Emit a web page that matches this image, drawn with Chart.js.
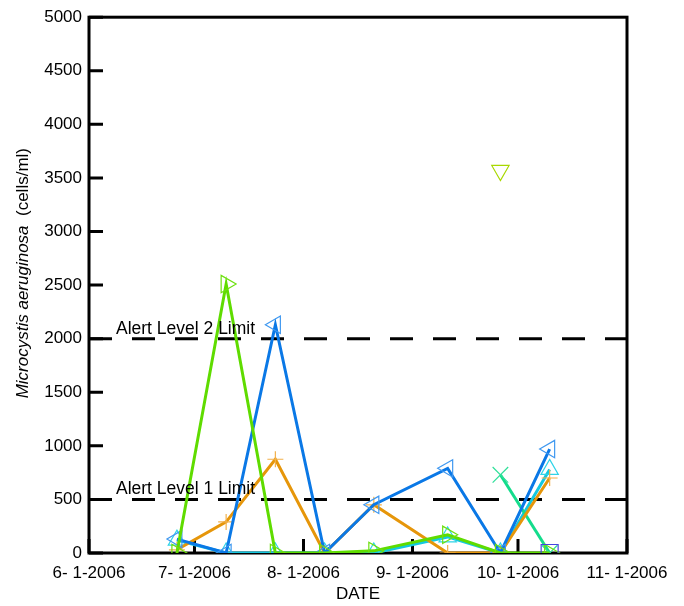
<!DOCTYPE html>
<html>
<head>
<meta charset="utf-8">
<script src="https://cdn.jsdelivr.net/npm/chart.js@4.4.0/dist/chart.umd.min.js"></script>
<style>
  html, body { margin: 0; padding: 0; background: #fff; }
</style>
</head>
<body>
<canvas id="myChart" width="684" height="606"></canvas>
<script>
// sampling dates and values (cells/ml)
const sampleDates = ['2006-06-26', '2006-07-10', '2006-07-24', '2006-08-07', '2006-08-21', '2006-09-11', '2006-09-26', '2006-10-10'];
const orangeCross = [30, 290, 875, 0, 450, 0, 0, 700];
const blueLeft = [130, 0, 2130, 0, 450, 790, 0, 970];
const greenRight = [0, 2510, 0, 0, 20, 170, 0, 0];
const cyanUp = [120, 0, 0, 0, 0, 150, 0, 780];
const tealX = [null, null, null, null, null, null, 730, 0];
const limeDown = [null, null, null, null, null, null, 3570, null];
const purpleSquare = [null, null, null, null, null, null, null, 0];

const tickDates = ['2006-06-01', '2006-07-01', '2006-08-01', '2006-09-01', '2006-10-01', '2006-11-01'];
const tickLabels = ['6- 1-2006', '7- 1-2006', '8- 1-2006', '9- 1-2006', '10- 1-2006', '11- 1-2006'];

const alertLevels = [2000, 500];
const alertLabels = ['Alert Level 2 Limit', 'Alert Level 1 Limit'];

const FONT = "'Liberation Sans', Arial, sans-serif";

function dayOf(s) {
    return (Date.parse(s) - Date.parse(tickDates[0])) / 86400000;
}
const tickDays = tickDates.map(dayOf);
const xMin = tickDays[0];
const xMax = tickDays[tickDays.length - 1];

function points(values) {
    return sampleDates.map((d, i) => ({ x: dayOf(d), y: values[i] }));
}

function series(values, color, markColor, style, rot, radius, showLine) {
    return {
        data: points(values),
        borderColor: color,
        borderWidth: 3,
        pointStyle: style,
        pointRotation: rot,
        pointRadius: radius,
        pointBorderColor: markColor,
        pointBackgroundColor: 'rgba(0,0,0,0)',
        pointBorderWidth: 1.2,
        showLine: showLine,
        spanGaps: false,
        fill: false
    };
}

const datasets = [
    series(limeDown, '#b4dc00', '#a8d800', 'triangle', 180, 10, false),
    series(purpleSquare, '#4646e0', '#4646e0', 'rect', 0, 12, false),
    series(greenRight, '#5fdc00', '#6ee010', 'triangle', 90, 10, true),
    series(blueLeft, '#0a78e6', '#3f98f0', 'triangle', 270, 10, true),
    series(orangeCross, '#e6960a', '#f2b04a', 'cross', 0, 8, true),
    series(tealX, '#14dc8c', '#30e09a', 'crossRot', 0, 11, true),
    series(cyanUp, '#14c8e0', '#30d4e8', 'triangle', 0, 10, true)
];

// dashed alert level lines
alertLevels.forEach(v => {
    datasets.push({
        data: [{ x: xMin, y: v }, { x: xMax, y: v }],
        borderColor: '#000',
        borderWidth: 3,
        borderDash: [23, 20],
        pointRadius: 0,
        fill: false
    });
});

// frame, inward ticks, alert texts and mixed-style y title
const framePlugin = {
    id: 'framePlugin',
    beforeDatasetsDraw(chart) {
        const { ctx, chartArea: { left, top, right, bottom }, scales: { x, y } } = chart;
        ctx.save();
        ctx.strokeStyle = '#000';
        ctx.lineWidth = 3;
        ctx.strokeRect(left, top, right - left, bottom - top);
        ctx.beginPath();
        y.ticks.forEach(t => {
            const py = y.getPixelForValue(t.value);
            ctx.moveTo(left, py);
            ctx.lineTo(left + 14, py);
        });
        x.ticks.forEach(t => {
            const px = x.getPixelForValue(t.value);
            ctx.moveTo(px, bottom);
            ctx.lineTo(px, bottom - 14);
        });
        ctx.stroke();
        ctx.restore();
    },
    afterDraw(chart) {
        const { ctx, chartArea: { left }, scales: { y } } = chart;
        ctx.save();
        ctx.fillStyle = '#000';
        ctx.font = '17.5px ' + FONT;
        ctx.textBaseline = 'alphabetic';
        ctx.textAlign = 'left';
        alertLevels.forEach((v, i) => {
            ctx.fillText(alertLabels[i], left + 27, y.getPixelForValue(v) - 5);
        });

        // y axis title, top end at about y = 148
        const part1 = 'Microcystis aeruginosa';
        const part2 = '  (cells/ml)';
        const italic = 'italic 17px ' + FONT;
        const normal = '17px ' + FONT;
        ctx.font = italic;
        const w1 = ctx.measureText(part1).width;
        ctx.font = normal;
        const w2 = ctx.measureText(part2).width;
        ctx.translate(28, 148 + w1 + w2);
        ctx.rotate(-Math.PI / 2);
        ctx.font = italic;
        ctx.fillText(part1, 0, 0);
        ctx.font = normal;
        ctx.fillText(part2, w1, 0);
        ctx.restore();
    }
};

Chart.defaults.font.family = FONT;
Chart.defaults.font.size = 17;
Chart.defaults.color = '#000';

const config = {
    type: 'line',
    data: { datasets },
    options: {
        responsive: false,
        animation: false,
        events: [],
        layout: { padding: { left: 0, top: 16, right: 57, bottom: 0 } },
        plugins: {
            legend: { display: false },
            tooltip: { enabled: false }
        },
        scales: {
            x: {
                type: 'linear',
                min: xMin,
                max: xMax,
                afterBuildTicks(scale) {
                    scale.ticks = tickDays.map(v => ({ value: v }));
                },
                afterFit(scale) {
                    scale.height = 53;
                },
                ticks: {
                    autoSkip: false,
                    maxRotation: 0,
                    padding: 10,
                    callback: v => tickLabels[tickDays.indexOf(v)]
                },
                grid: { display: false, drawTicks: false },
                border: { display: false },
                title: {
                    display: true,
                    text: 'DATE',
                    font: { size: 17 },
                    padding: { top: 0, bottom: 1 }
                }
            },
            y: {
                min: 0,
                max: 5000,
                afterFit(scale) {
                    scale.width = 89;
                },
                ticks: {
                    stepSize: 500,
                    padding: 7,
                    callback: v => String(v)
                },
                grid: { display: false, drawTicks: false },
                border: { display: false }
            }
        }
    },
    plugins: [framePlugin]
};

const myChart = new Chart(document.getElementById('myChart'), config);
</script>
</body>
</html>
